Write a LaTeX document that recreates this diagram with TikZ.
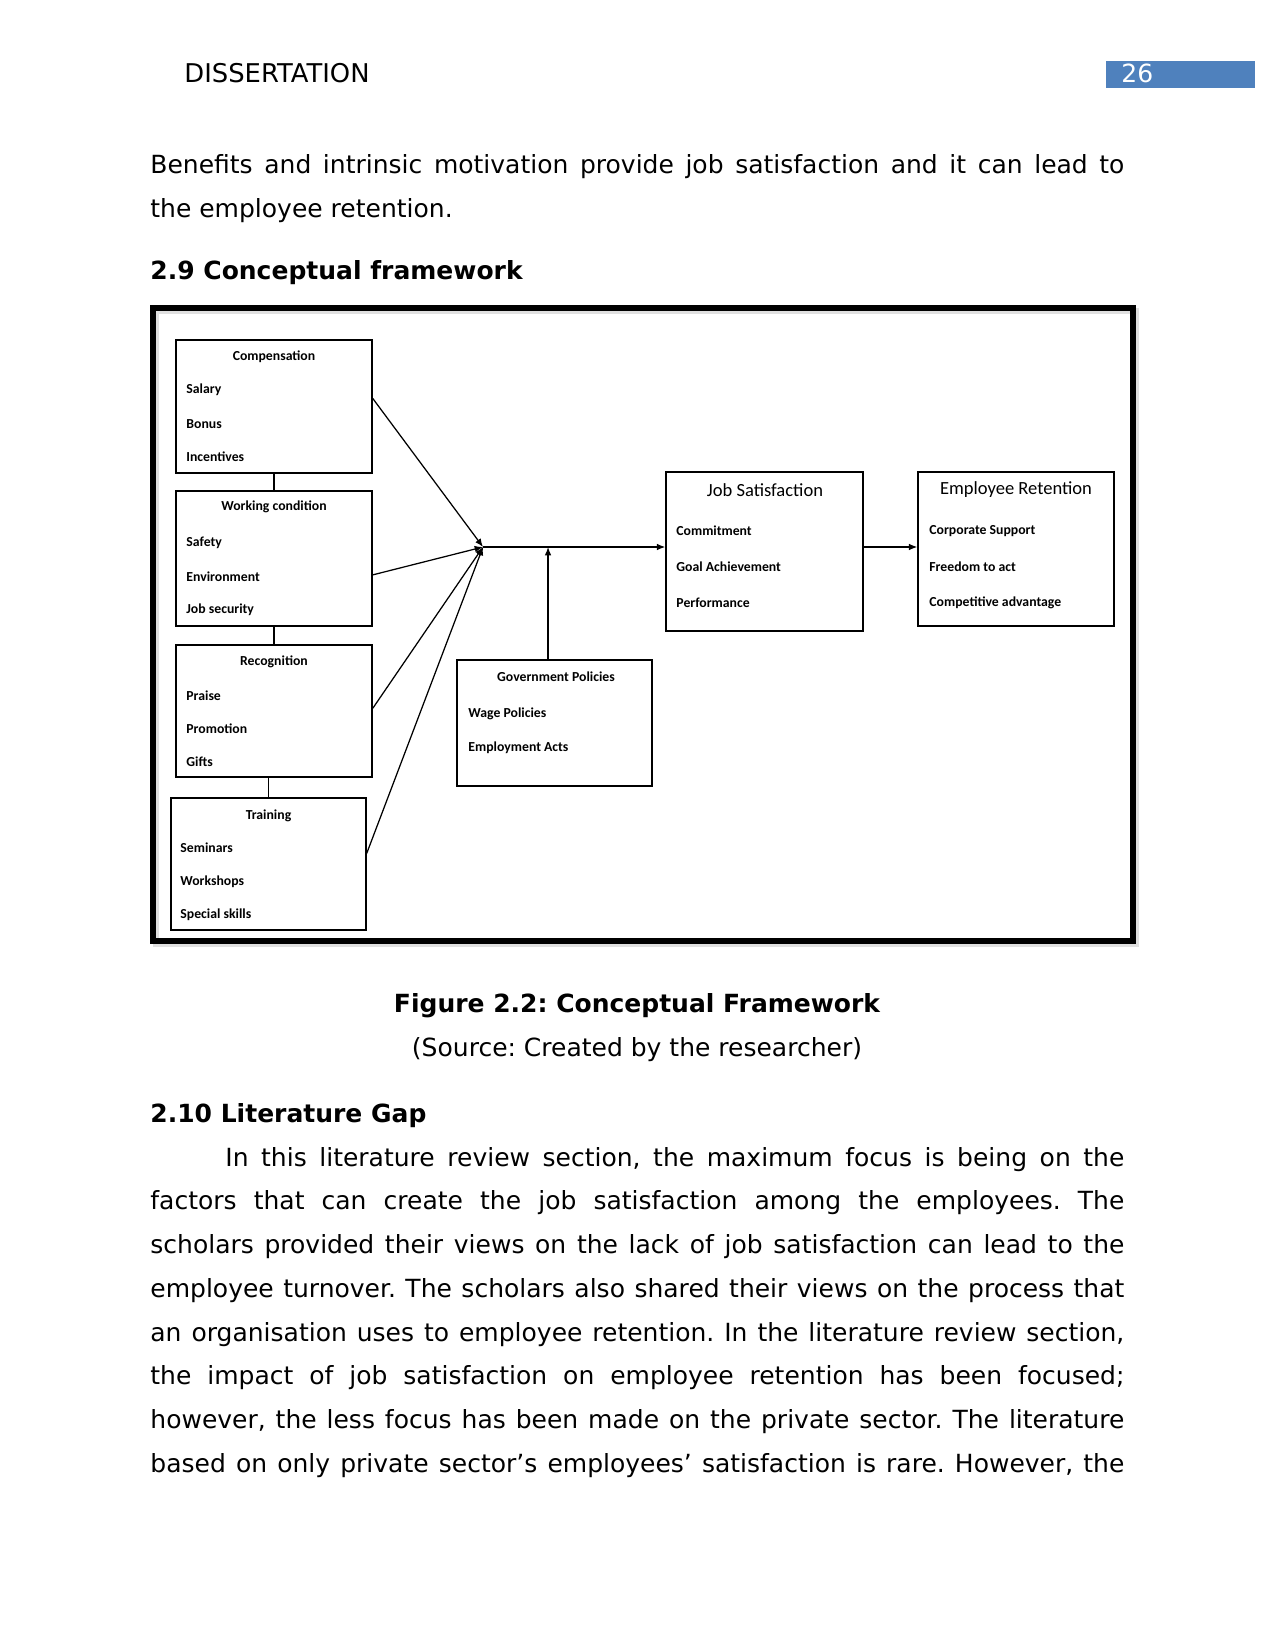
\documentclass[tikz,border=0pt]{standalone}
\usepackage{fontspec}
\setmainfont{DejaVu Sans}
\newfontfamily\calfont{Carlito}
\usetikzlibrary{arrows.meta,calc}
\definecolor{hdrblue}{RGB}{79,129,189}
\frenchspacing

\tikzset{
  box/.style={draw,line width=0.7pt,inner sep=0pt},
  hd/.style={font=\calfont\bfseries\fontsize{6.6}{8}\selectfont,inner sep=0pt},
  bighd/.style={font=\calfont\fontsize{8.9}{11}\selectfont,inner sep=0pt},
  item/.style={font=\calfont\bfseries\fontsize{6.6}{8}\selectfont,anchor=west,inner sep=0pt},
  link/.style={line width=0.6pt},
  arr/.style={line width=0.6pt,-{Latex[length=4pt,width=3.2pt]}},
  body/.style={anchor=base west,inner sep=0pt,text width=467.5pt,align=justify,
    font=\fontsize{12}{21}\selectfont},
  bold/.style={font=\fontsize{12}{14}\selectfont\bfseries},
}

\begin{document}
\begin{tikzpicture}[x=0.48pt,y=-0.48pt,inner sep=0pt,font=\fontsize{12}{14}\selectfont]
\useasboundingbox (0,0) rectangle (1275,1650);

\node[anchor=base west,font=\fontsize{12.4}{14}\selectfont] (hdr) at (184,83) {DISSERTATION};
\fill[hdrblue] (1106,61) rectangle (1255,88);
\node[anchor=base west,text=white] (pgno) at (1121,83) {26};

\node[body] (para1) at (150,174) {Benefits and intrinsic motivation provide job satisfaction and it can lead to\linebreak the employee retention.};

\node[anchor=base west,bold] (sec9) at (150,280) {2.9 Conceptual framework};

\draw[line width=2.9pt,black!12] (156,311) rectangle (1136,944);
\draw[line width=2.9pt] (153,308) rectangle (1133,941);

\node[box,minimum width=94.1pt,minimum height=63.8pt] (comp) at (274,406.5) {};
\node[hd] (compt) at (274,357) {Compensation};
\node[item] (sal) at (186,390) {Salary};
\node[item] (bon) at (186,424) {Bonus};
\node[item] (inc) at (186,457) {Incentives};

\node[box,minimum width=94.1pt,minimum height=64.8pt] (work) at (274,558.5) {};
\node[hd] (workt) at (274,507) {Working condition};
\node[item] (saf) at (186,543) {Safety};
\node[item] (env) at (186,577) {Environment};
\node[item] (jsec) at (186,610) {Job security};

\node[box,minimum width=94.1pt,minimum height=63.4pt] (recog) at (274,711) {};
\node[hd] (recogt) at (274,662) {Recognition};
\node[item] (pra) at (186,696) {Praise};
\node[item] (pro) at (186,729) {Promotion};
\node[item] (gif) at (186,762) {Gifts};

\node[box,minimum width=93.6pt,minimum height=63.4pt] (train) at (268.5,864) {};
\node[hd] (traint) at (268.5,815.5) {Training};
\node[item] (sem) at (180,848) {Seminars};
\node[item] (wor) at (180,882) {Workshops};
\node[item] (spe) at (180,915) {Special skills};

\node[box,minimum width=93.6pt,minimum height=60.5pt] (gov) at (554.5,723) {};
\node[hd] (govt) at (556,677) {Government Policies};
\node[item] (wag) at (468,714) {Wage Policies};
\node[item] (emac) at (468,748) {Employment Acts};

\node[box,minimum width=94.6pt,minimum height=76.3pt] (job) at (764.5,551.5) {};
\node[bighd] (jobt) at (765,490) {Job Satisfaction};
\node[item] (com) at (676,531) {Commitment};
\node[item] (goa) at (676,567) {Goal Achievement};
\node[item] (per) at (676,603) {Performance};

\node[box,minimum width=94.1pt,minimum height=73.9pt] (emp) at (1016,549) {};
\node[bighd] (empt) at (1016,490) {Employee Retention};
\node[item] (cor) at (929,531) {Corporate Support};
\node[item] (fre) at (929,567) {Freedom to act};
\node[item] (cad) at (929,603) {Competitive advantage};

\draw[link] (comp) -- (work);
\draw[link] (work) -- (recog);
\draw[link] (train.north |- recog.south) -- (train.north);

\coordinate (hub) at (483,547);
\draw[arr] ($(comp.north east)!0.44!(comp.south east)$) -- (hub);
\draw[arr] ($(work.north east)!0.62!(work.south east)$) -- (hub);
\draw[arr] ($(recog.north east)!0.48!(recog.south east)$) -- (hub);
\draw[arr] ($(train.north east)!0.42!(train.south east)$) -- (hub);
\draw[arr] (hub) -- (hub -| job.west);
\draw[arr] (hub -| job.east) -- (hub -| emp.west);
\draw[arr] ([xshift=-3.1pt]gov.north) -- ([xshift=-3.1pt]gov.north |- hub);

\node[bold] (cap) at (637,1006) {Figure 2.2: Conceptual Framework};
\node (src) at (637,1050) {(Source: Created by the researcher)};

\node[anchor=base west,bold] (sec10) at (150,1122) {2.10 Literature Gap};

\node[body] (para2) at (150,1166) {\hspace*{36pt}In this literature review section, the maximum focus is being on the\linebreak factors that can create the job satisfaction among the employees. The\linebreak scholars provided their views on the lack of job satisfaction can lead to the\linebreak employee turnover. The scholars also shared their views on the process that\linebreak an organisation uses to employee retention. In the literature review section,\linebreak the impact of job satisfaction on employee retention has been focused;\linebreak however, the less focus has been made on the private sector. The literature\linebreak \hbox to\linewidth{based on only private sector’s employees’ satisfaction is rare. However, the}};
\end{tikzpicture}
\end{document}
